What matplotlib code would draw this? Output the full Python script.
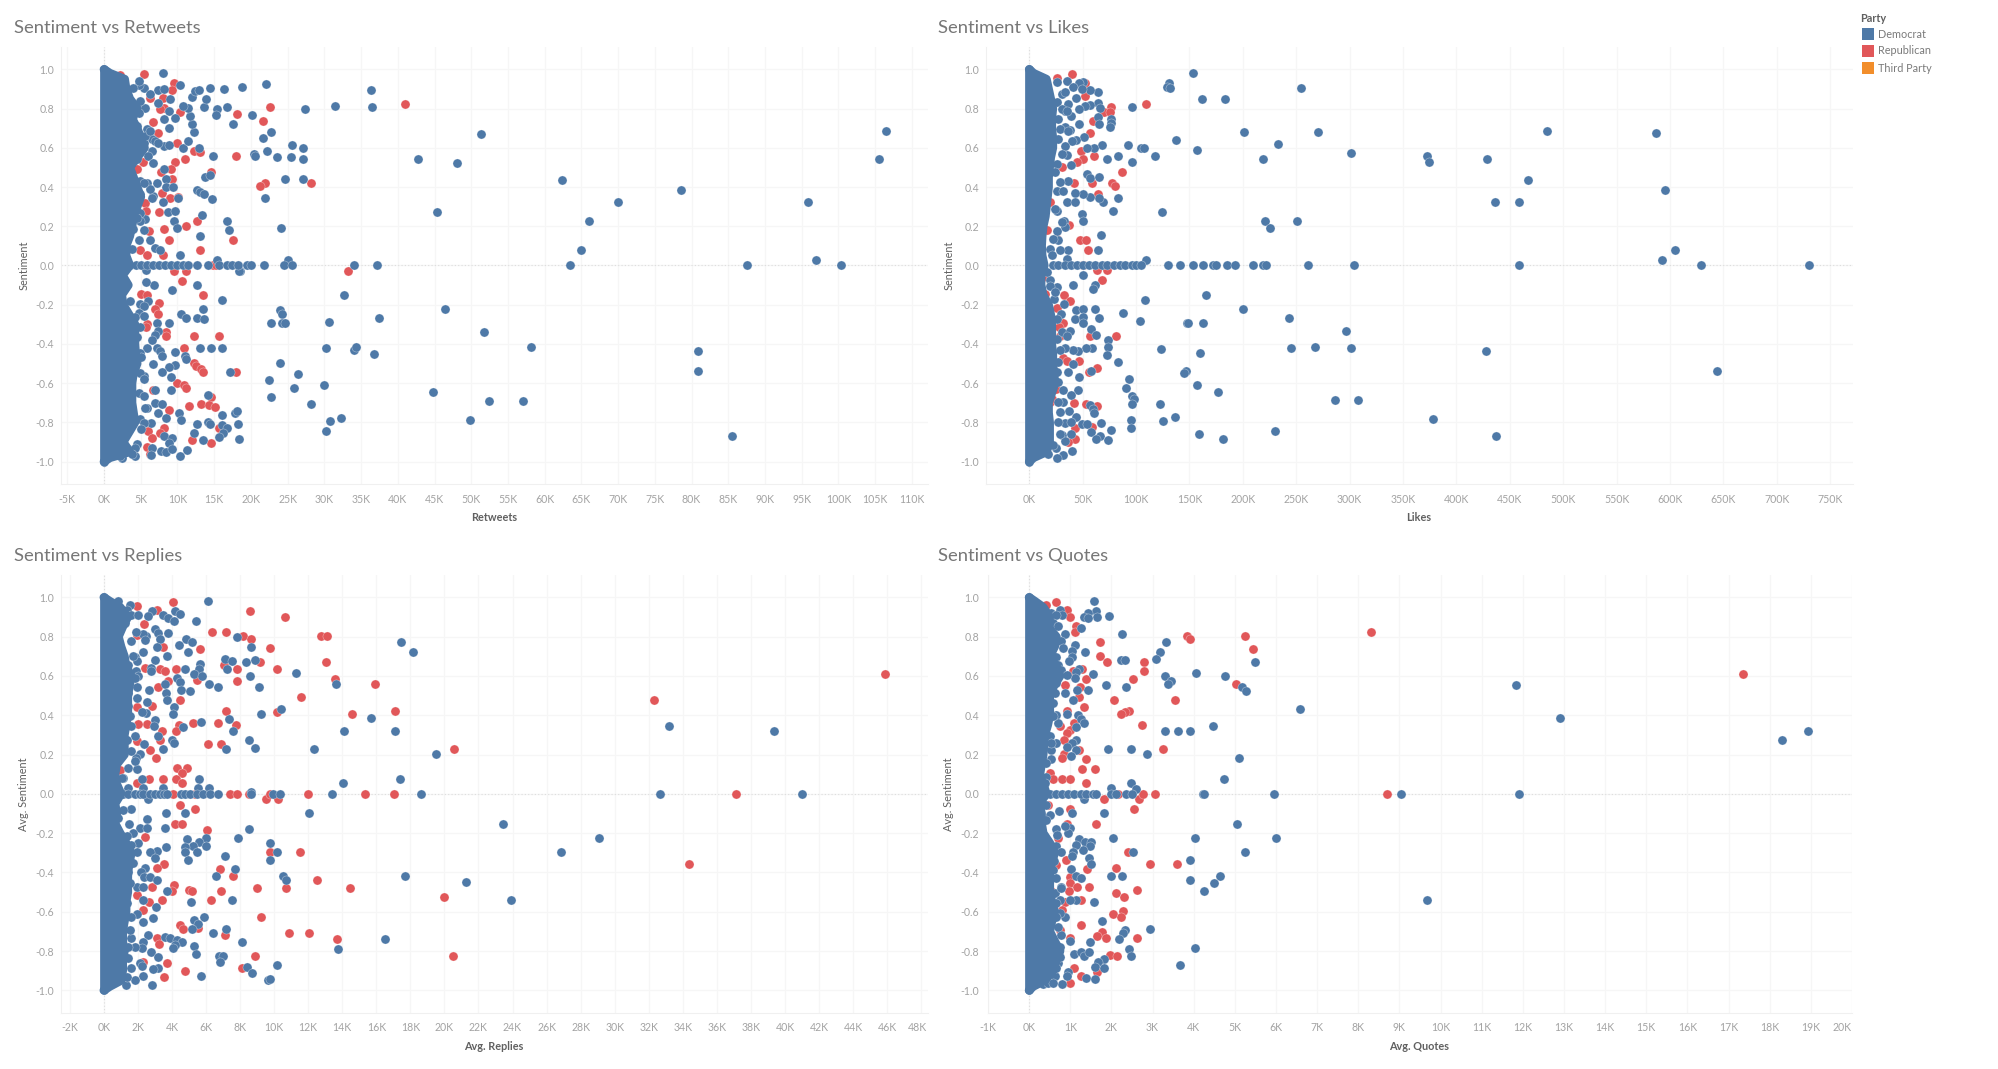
import numpy as np
import matplotlib
matplotlib.use("Agg")
import matplotlib.pyplot as plt
from matplotlib.patches import Rectangle
from matplotlib.transforms import ScaledTranslation

plt.rcParams['font.family'] = ['Lato', 'DejaVu Sans']

BLUE = '#4e79a7'; RED = '#e15759'; ORANGE = '#f28e2b'
W, H = 1999, 1069

y_ticks = [-1.0, -0.8, -0.6, -0.4, -0.2, 0.0, 0.2, 0.4, 0.6, 0.8, 1.0]
legend_items = ['Democrat', 'Republican', 'Third Party']

# ---------- sentiment levels at which the overplotted solid column was read
column_y = [1.0, .98, .95, .9, .85, .8, .75, .7, .65, .6, .55, .5, .45, .4, .35, .3, .25, .2, .15, .1, .05, 0,
            -.05, -.1, -.15, -.2, -.25, -.3, -.35, -.4, -.45, -.5, -.55, -.6, -.65, -.7, -.75, -.8, -.85, -.9, -.95, -.98, -1.0]

# ---------- Retweets (thousands)
rt_column = [0, .8, 2.8, 3, 3.5, 4.5, 3.8, 4.5, 5, 5.5, 4.5, 3.5, 4, 4.5, 5, 4.5, 4, 3.8, 3.5, 3, 3, 3.5,
             2.5, 3.3, 2.4, 2.6, 3.4, 4.2, 4.2, 4.2, 4.3, 4.5, 4, 3.8, 3.8, 3.8, 4, 4.2, 3.4, 2.6, 3.5, .8, 0]
rt_dem_zero = [3.5, 4.3, 5.1, 5.9, 6.7, 7.5, 8.3, 9.1, 9.9, 10.7, 11.5, 12.7, 14.2, 15.6, 16.7, 17.4, 18.2, 19.4, 20,
               21.8, 24.5, 25.6, 34, 37.2, 63.5, 87.6, 100.3]
rt_rep_zero = [14.9, 15.2]
rt_dem = [(8.05,.98),(10.4,.92),(14.45,.907),(16.3,.90),(18.8,.91),(22.1,.924),(36.4,.893),(31.5,.815),(36.5,.808),(27.3,.798),
 (16.8,.808),(15.4,.80),(15.3,.767),(13.6,.808),(20.1,.767),(17.5,.72),(22.7,.68),(21.7,.65),(51.3,.672),(25.6,.616),(27.1,.60),
 (22.2,.586),(20.4,.57),(20.6,.558),(23.6,.555),(25.4,.555),(27.1,.542),(14.8,.558),(42.8,.542),(48.1,.525),(24.7,.441),(27.1,.441),
 (21.9,.343),(45.4,.273),(24.1,.192),(16.7,.228),(17,.183),(13,.151),(13.8,.452),(14.45,.46),(12.6,.384),(13.1,.375),(13.6,.363),
 (14.7,.338),(13.3,.26),(10.4,.053),(12.9,.60),(10.8,.60),(11.4,.637),(12.3,.68),(12,.72),(11.7,.762),(11.4,.805),(10.7,.813),
 (12,.859),(12.4,.89),(12.9,.895),(13.9,.847),(9,.847),(7.3,.895),(8.1,.898),(5.5,.907),(6.3,.873),(4.7,.918),(4.7,.94),(7.4,.83),
 (8.8,.788),(9.7,.754),(8.1,.745),(8.8,.703),(5.8,.694),(6.5,.643),(8.1,.61),(8.9,.613),(6.5,.584),(6,.558),(6.7,.525),(8.1,.49),
 (8.5,.44),(7.2,.423),(8.5,.402),(9.4,.402),(6.7,.355),(10.1,.343),(8,.324),(8.7,.275),(9.6,.277),(9.5,.228),(10,.19),(4.7,.131),
 (6.2,.131),(7,.087),(7.6,.08),(5.4,.182),(5.6,.236),(15.4,.027),(25,.027),(18.5,-.027),
 (5.7,-.022),(18.4,-.027),(12.7,-.099),(6.8,-.099),(5.7,-.083),(9.2,-.126),(32.7,-.151),(16.1,-.177),(46.4,-.224),(13.5,-.224),
 (24,-.226),(24.2,-.245),(10.5,-.245),(11.2,-.269),(12.7,-.269),(13.6,-.274),(37.5,-.269),(30.6,-.286),(22.8,-.294),(24.2,-.294),
 (24.7,-.294),(7.2,-.294),(8.8,-.294),(51.8,-.337),(7.4,-.333),(7,-.355),(6.5,-.381),(4.5,-.367),(5.8,-.42),(7.2,-.42),(9.6,-.439),
 (7.6,-.435),(7.9,-.461),(13.1,-.42),(14.6,-.42),(16,-.42),(30.2,-.42),(34,-.43),(34.3,-.418),(58.1,-.415),(36.7,-.452),(11,-.461),
 (11.1,-.478),(6.7,-.503),(9.6,-.507),(8.9,-.515),(24,-.495),(7.9,-.543),(17.2,-.543),(26.4,-.551),(9.1,-.571),(5.4,-.563),(22.5,-.582),
 (25.9,-.624),(30,-.611),(7,-.636),(9.1,-.636),(44.8,-.646),(22.7,-.668),(14.2,-.658),(52.4,-.689),(57.1,-.689),(28.2,-.707),(7,-.699),
 (7.9,-.707),(5.8,-.724),(7.4,-.75),(10.2,-.753),(10.5,-.789),(8.5,-.776),(16.1,-.762),(17.9,-.753),(18.1,-.741),(32.3,-.777),
 (49.8,-.786),(30.8,-.794),(12.6,-.806),(14.1,-.796),(14.4,-.806),(16,-.813),(18.3,-.806),(16.7,-.83),(16.2,-.852),(6.4,-.803),
 (12.3,-.855),(15.6,-.872),(30.2,-.845),(8.1,-.869),(9.2,-.878),(8.8,-.903),(13.5,-.889),(18.4,-.886),(6.5,-.929),(7.8,-.946),
 (8.5,-.951),(9.3,-.937),(11.3,-.942),(10.3,-.971),(6.4,-.968),(4.2,-.971),(2.5,-.98),
 (106.5,.686),(105.5,.543),(62.4,.436),(78.5,.387),(70,.323),(95.8,.323),(66.1,.228),(64.9,.08),(97,.029),(80.9,-.435),(80.9,-.54),(85.5,-.869)]
rt_dem_near = [(4,.813),(4.7,.813),(5.6,.805),(4,.762),(4.7,.78),(4.5,.711),(4.7,.669),(5.4,.626),(4.5,.542),(4,.533),(4.9,.431),(4,.431),(5.8,.423),
 (6.3,.389),(4.9,.363),(6.5,.346),(4.9,.27),(4,.253),(4.9,.228),(4,.185),(3.1,.134),(3.8,.083),(4.5,.244),(5.4,.423),(5.6,.66),(6.3,.686),(7,.635),
 (7.4,.626),(4.9,.839),(4,.907),(3.5,-.18),(4.9,-.197),(6,-.18),(5.4,-.206),(4.7,-.24),(4.2,-.265),(5.4,-.257),(4.9,-.316),(4.9,-.444),(5.1,-.469),
 (4.9,-.546),(5.4,-.58),(4.7,-.648),(5.4,-.665),(5.6,-.724),(4.9,-.784),(5.4,-.801),(5.1,-.835),(4.5,-.912),(3.3,-.937),(4.2,-.929),(3.8,-.963),(2.2,-.971)]
rt_rep = [(5.4,.976),(2.2,.97),(9.5,.932),(9.3,.895),(6.3,.852),(8,.856),(8.1,.805),(7.6,.796),(10.4,.784),(18.1,.771),(22.6,.808),
 (21.7,.737),(41,.823),(6.6,.732),(7.4,.674),(10,.625),(12.2,.584),(13,.579),(18,.559),(11,.542),(9.7,.53),(5.3,.53),(4.5,.494),
 (9.1,.494),(7.7,.477),(14.5,.477),(9.3,.44),(21.9,.421),(21.3,.404),(28.2,.421),(7.9,.372),(9,.343),(10.1,.35),(5.6,.32),(7.5,.275),
 (5.7,.278),(12.6,.228),(11.2,.202),(8.2,.188),(6.1,.178),(8.8,.131),(17.6,.131),(13,.078),(4.9,.08),(5.8,.053),(8,.053),(33.2,-.026),
 (9.5,-.027),(11.1,-.027),(10.6,-.078),(13.5,-.151),(5.1,-.143),(5.9,-.151),(7.5,-.189),(7,-.223),(7.3,-.245),(5.8,-.3),(5.7,-.316),
 (8.5,-.338),(8.5,-.359),(12.2,-.359),(15.7,-.359),(10.9,-.42),(12.2,-.498),(12.5,-.512),(13.2,-.526),(13.5,-.543),(18,-.543),(10,-.6),
 (10.9,-.61),(11.1,-.626),(6.6,-.636),(14.5,-.668),(11.6,-.716),(13.2,-.707),(14.3,-.711),(15.1,-.721),(8.8,-.736),(8.1,-.827),
 (7.6,-.855),(6,-.844),(6.5,-.881),(12,-.891),(14.5,-.903),(5.9,-.923),(6.2,-.963),(15.7,-.83)]

# ---------- Likes (thousands)
lk_column = [0, 4, 16, 18, 20, 22, 21, 21, 22, 22, 20, 19, 18, 18, 17, 16, 15, 13, 12, 11.5, 12, 14,
             11, 11, 13, 18, 20, 21, 21, 21, 22, 22, 23, 24, 21, 18, 18, 19, 19, 19, 16, 4, 0]
lk_dem_zero = [22, 27, 33, 39, 45, 50, 56, 62, 68, 73, 79, 85, 90, 96, 100, 105, 129.5, 141.1, 153.2, 162.9, 172.3, 174.8,
               184.8, 192.6, 209.7, 219.1, 221.3, 260.9, 304, 458.5, 628.9, 730.4]
lk_rep_zero = [50.6]
lk_dem = [(153.2,.981),(130.8,.929),(129.2,.912),(131.7,.907),(254,.903),(162,.847),(183.5,.847),(95.8,.808),(201,.682),(270.3,.682),
 (137.3,.64),(232.8,.618),(157,.587),(301.5,.574),(218.5,.543),(372.3,.557),(374.2,.526),(92,.613),(104.2,.601),(107.4,.601),(117.7,.56),
 (83.3,.557),(73,.543),(96.4,.53),(68.4,.613),(60.9,.6),(53.7,.6),(51.2,.654),(43.7,.64),(39.6,.637),(38.7,.514),(35.6,.565),(64.6,.886),
 (56.8,.896),(50.6,.934),(46.8,.93),(35.6,.942),(41.2,.912),(49.6,.9),(43.4,.852),(64,.829),(56.8,.818),(52.1,.815),(46.5,.798),(66.2,.803),
 (36.5,.823),(33.4,.79),(64,.759),(76.2,.747),(76.5,.727),(75.5,.705),(65.5,.722),(38.7,.761),(46.8,.722),(38,.691),(53.7,.467),(56.8,.447),
 (65.5,.453),(36.5,.433),(28.7,.424),(82.7,.345),(78,.278),(123.9,.275),(69.3,.323),(65.2,.343),(56.8,.348),(50.6,.362),(42.8,.37),(35,.323),
 (42.8,.323),(49,.263),(49.9,.228),(221,.228),(225,.192),(250.3,.228),(67.4,.153),(27.2,.131),(32.8,.229),(33.4,.195),(25.6,.178),(25.6,.28),
 (64,.08),(36.5,.08),(28.7,.08),(108.9,.029),(35,.034),(50.6,-.048),(41.2,-.097),(61.5,-.098),(59.3,-.122),(19.4,-.076),(25.6,-.11),
 (165.1,-.149),(108,-.177),(23.1,-.173),(32.5,-.197),(200.4,-.224),(43.4,-.226),(49.9,-.224),(61.5,-.224),(29.7,-.246),(87.7,-.244),
 (65.5,-.267),(42.8,-.272),(50.6,-.263),(49.9,-.294),(243.1,-.267),(103.6,-.285),(147.3,-.294),(148.5,-.294),(162.9,-.294),(296.5,-.336),
 (57.7,-.323),(62.1,-.353),(30.3,-.34),(38,-.336),(35,-.36),(73.3,-.38),(73.3,-.416),(73,-.455),(244.7,-.419),(267.2,-.413),(300.9,-.419),
 (123.6,-.428),(159.8,-.448),(58.4,-.419),(52.7,-.419),(45.9,-.438),(41.2,-.433),(33.4,-.421),(28.7,-.433),(83.3,-.492),(41.2,-.504),
 (36.5,-.543),(57.4,-.537),(146.4,-.538),(145.1,-.55),(46.8,-.57),(93.6,-.579),(90.5,-.623),(156.7,-.61),(176.3,-.643),(45.9,-.635),
 (31.8,-.637),(38.7,-.662),(95.8,-.666),(98,-.679),(96.4,-.705),(286.2,-.688),(307.7,-.688),(122,-.705),(56.8,-.713),(59.3,-.73),(60.5,-.75),
 (31.8,-.696),(27.2,-.696),(37.5,-.744),(43.4,-.772),(33.4,-.803),(39,-.798),(136.4,-.774),(95.2,-.786),(95.2,-.827),(124.8,-.791),
 (378,-.783),(49,-.81),(54.3,-.806),(67.1,-.803),(76.8,-.84),(57.7,-.849),(66.2,-.869),(62.1,-.883),(73.7,-.891),(158.9,-.861),(230,-.844),
 (181,-.886),(30.9,-.866),(38.7,-.861),(33.4,-.895),(39.6,-.947),(31.8,-.968),(25.6,-.98),(17.8,-.959),(25,-.93),
 (484.7,.686),(586.8,.674),(428.2,.543),(467.2,.436),(594.9,.387),(436,.323),(458.5,.323),(604.2,.08),(592.4,.029),(427.6,-.435),(644.2,-.54),(437,-.869)]
lk_dem_near = [(25.6,.934),(30.3,.874),(33.4,.883),(25.6,.832),(30.3,.798),(35,.79),(27.2,.747),(33.4,.705),(28.7,.696),(36.5,.688),(27.2,.645),(33.4,.611),
 (30.3,.569),(25.6,.518),(24,.475),(25.6,.382),(31.8,.382),(24,.289),(30.3,.221),(22.5,.136),(19.4,.085),(20.9,.051),(16.2,-.034),(19.4,-.102),(24,-.136),
 (25.6,-.272),(25.6,-.374),(27.2,-.492),(25.6,-.543),(27.2,-.594),(28.7,-.747),(27.2,-.798),(28.7,-.857),(22.5,-.917)]
lk_rep = [(40.3,.978),(25.6,.954),(52.1,.93),(52.1,.862),(109.6,.825),(76.8,.808),(69.9,.784),(75.5,.781),(59.9,.739),(56.8,.674),(60.9,.56),
 (48.1,.582),(49.9,.543),(44.3,.53),(30.3,.501),(86.5,.479),(77.1,.421),(80.2,.406),(58.4,.421),(42.1,.423),(64,.365),(19.4,.323),(37.5,.204),
 (16.9,.183),(47.4,.132),(53.1,.132),(54.6,.08),(25.6,.136),(63,-.025),(73,-.025),(68.4,-.076),(13.1,-.059),(14.7,-.144),(32.8,-.149),
 (38,-.183),(25.6,-.217),(31.2,-.294),(28.1,-.314),(80.8,-.358),(56.8,-.358),(28.7,-.357),(31.8,-.472),(35,-.489),(46.8,-.489),(63.4,-.523),
 (56.2,-.543),(19.4,-.696),(20.9,-.683),(25,-.628),(17.8,-.6),(41.8,-.703),(52.7,-.708),(63.7,-.718),(43.1,-.827),(58.4,-.823),(42.8,-.886),(36.5,-.9)]

# ---------- Avg. Replies (thousands)
rp_column = [0, .35, .95, 1.4, 1.1, .85, 1, 1.2, 1.3, 1.6, 1.5, 1.4, 1.4, 1.4, 1.3, 1.2, 1.2, 1.2, .75, .65, .75, 1,
             .65, .75, .65, .95, 1.3, 1.6, 1.5, 1.4, 1.4, 1.4, 1.3, 1.3, 1.2, 1.1, 1.1, 1.2, 1.1, 1.1, 1, .35, 0]
rp_dem_zero = [1.1, 1.43, 1.8, 2.1, 2.31, 2.7, 3, 3.29, 3.52, 3.72, 4.5, 4.76, 5.05, 5.48, 5.83, 6.22, 6.73, 8.63, 9.94, 10.33,
               13.42, 18.61, 32.66, 40.99]
rp_rep_zero = [4.07, 5.34, 7.4, 7.79, 8.53, 9.75, 11.96, 15.36, 17.06, 37.1]
rp_dem = [(6.09,.98),(.84,.98),(1.53,.963),(2.8,.929),(2.6,.903),(4.17,.929),(4.46,.915),(3.48,.912),(3.78,.895),(4.13,.878),(5.4,.878),
 (3,.839),(3.78,.818),(3.19,.818),(2.5,.806),(2.31,.815),(1.88,.823),(2.41,.781),(3.29,.789),(7.83,.796),(4.81,.789),(5.19,.772),(4.42,.759),
 (3.09,.75),(4.91,.722),(2.31,.72),(8.61,.745),(17.46,.772),(18.18,.72),(3.72,.703),(2.99,.682),(1.82,.696),(1.92,.674),(7.14,.686),(7.5,.674),
 (8.32,.671),(8.85,.679),(7.24,.638),(5.64,.66),(5.6,.637),(4.74,.638),(2.74,.64),(2.74,.623),(5.28,.611),(5.79,.598),(1.88,.623),(2.02,.601),
 (11.31,.613),(8.57,.599),(4.31,.589),(4.46,.567),(6.18,.56),(6.73,.543),(9.08,.543),(3.58,.559),(4.52,.53),(5.05,.526),(13.62,.557),(2.62,.53),
 (1.96,.543),(3.64,.513),(3.72,.479),(1.92,.487),(2.54,.467),(4.13,.443),(4.03,.404),(2.5,.411),(2.21,.419),(10.41,.433),(9.22,.404),(7.34,.382),
 (15.71,.387),(2.99,.377),(2.95,.346),(4.62,.338),(5.68,.365),(14.11,.321),(17.12,.321),(7.57,.321),(3.19,.297),(1.82,.297),(3.97,.272),(4.11,.26),
 (8.53,.273),(2.37,.253),(8.88,.234),(7.18,.226),(3.48,.226),(12.33,.226),(19.51,.204),(2.11,.204),(1.88,.182),(1.43,.131),(1.96,.129),(17.4,.078),
 (5.58,.078),(2.25,.076),(1.14,.08),(14.07,.053),(5.54,.029),(6.18,.029),(3.48,.029),(2.27,.029),(1.43,.029),(8.61,.008),(2.6,-.025),(1.62,-.076),
 (3.64,-.1),(4.77,-.1),(12.02,-.1),(2.54,-.126),(23.41,-.151),(1.49,-.153),(3.6,-.173),(2.11,-.175),(2.54,-.173),(8.53,-.177),(5.97,-.224),
 (7.89,-.224),(4.87,-.228),(1.68,-.2),(9.75,-.248),(5.6,-.243),(5.24,-.265),(5.97,-.268),(4.74,-.272),(3.64,-.273),(4.74,-.295),(5.48,-.295),
 (3.09,-.29),(2.7,-.294),(2.02,-.251),(2.99,-.324),(10.14,-.294),(26.87,-.294),(7.12,-.316),(4.93,-.338),(9.75,-.338),(1.72,-.35),(7.69,-.38),
 (2.41,-.379),(2.17,-.399),(2.35,-.421),(2.7,-.424),(3.09,-.436),(6.58,-.419),(10.51,-.416),(10.72,-.438),(17.71,-.419),(21.25,-.45),(1.96,-.475),
 (2.31,-.474),(3.68,-.494),(5.13,-.55),(7.55,-.542),(23.91,-.542),(2.31,-.54),(3.05,-.574),(2.86,-.633),(2.31,-.65),(1.92,-.613),(5.87,-.628),
 (5.28,-.643),(5.54,-.662),(5.19,-.688),(6.38,-.706),(7.2,-.688),(16.52,-.74),(2.6,-.716),(3.58,-.727),(3.87,-.735),(4.27,-.744),(4.56,-.754),
 (4.17,-.769),(4.03,-.783),(1.62,-.735),(8.12,-.754),(5.28,-.776),(5.38,-.815),(13.74,-.791),(2.31,-.752),(2.21,-.783),(1.82,-.778),(2.74,-.806),
 (3.19,-.829),(2.11,-.862),(2.25,-.874),(3.19,-.888),(2.9,-.891),(6.77,-.825),(7.01,-.825),(6.83,-.854),(10.14,-.869),(8.43,-.883),(8.67,-.91),
 (9.65,-.946),(9.78,-.941),(5.73,-.927),(2.31,-.927),(1.84,-.949),(2.84,-.971),(1.29,-.971),
 (33.17,.343),(39.36,.321),(29.06,-.224)]
rp_dem_near = [(1.33,.937),(1.62,.912),(2.02,.912),(1.23,.869),(1.62,.776),(1.72,.7),(1.43,.657),(1.53,.589),(1.82,.589),(1.43,.513),(1.43,.445),(1.53,.394),
 (1.62,.343),(1.33,.275),(1.62,.216),(1.82,.165),(1.04,.08),(1.14,-.081),(.84,-.124),(1.33,-.217),(1.62,-.26),(1.92,-.294),(1.43,-.396),(1.53,-.455),
 (1.33,-.557),(1.62,-.625),(1.53,-.693),(1.43,-.778),(1.43,-.837),(1.62,-.888),(1.33,-.93)]
rp_rep = [(4.03,.976),(8.57,.932),(10.63,.902),(3.09,.937),(1.96,.958),(2.37,.866),(6.32,.823),(7.18,.823),(8.18,.803),(8.63,.786),(12.76,.801),
 (13.13,.806),(1.96,.81),(3.48,.75),(5.64,.737),(9.73,.742),(13.05,.672),(9.14,.672),(7.05,.657),(7.83,.638),(10.14,.638),(4.23,.638),(3.29,.638),
 (3.58,.626),(2.43,.64),(13.56,.587),(15.93,.56),(7.83,.574),(5.44,.581),(3.74,.576),(3.19,.543),(11.59,.494),(4.48,.477),(2.8,.445),(1.92,.44),
 (7.16,.421),(10.14,.419),(17.12,.421),(14.58,.404),(6.73,.362),(5.23,.36),(7.73,.35),(2.54,.355),(4.42,.348),(4.21,.321),(3.42,.321),(1.98,.355),
 (3.29,.275),(1.96,.267),(6.09,.253),(6.89,.253),(2.7,.224),(3.05,.182),(20.57,.226),(4.32,.131),(4.87,.131),(4.56,.104),(.94,.122),(3.48,.078),
 (4.23,.078),(2.64,.078),(4.58,.053),(1.96,.053),(9.51,-.025),(10.23,-.025),(4.48,-.056),(5.36,-.076),(4.17,-.151),(4.58,-.151),(6.03,-.185),
 (2.39,-.219),(9.78,-.294),(11.53,-.294),(3.54,-.358),(3.11,-.375),(6.79,-.38),(7.61,-.419),(4.13,-.462),(4.01,-.494),(2.8,-.472),(5.01,-.489),
 (5.15,-.492),(6.89,-.494),(9.02,-.477),(10.72,-.477),(12.52,-.438),(14.46,-.477),(1.96,-.514),(3.39,-.542),(6.28,-.542),(19.96,-.525),(2.66,-.552),
 (2.31,-.591),(9.22,-.625),(4.48,-.666),(4.62,-.689),(5.54,-.681),(10.86,-.71),(12.07,-.706),(7.14,-.72),(13.68,-.74),(3.09,-.732),(3.23,-.762),
 (8.85,-.827),(20.51,-.823),(3.72,-.862),(8.1,-.888),(4.77,-.9),(3.54,-.93),(2.31,-.854),(32.3,.477),(45.85,.611),(34.36,-.358)]

# ---------- Avg. Quotes (thousands)
qt_column = [0, .14, .34, .5, .46, .66, .62, .5, .66, .75, .6, .5, .5, .5, .45, .38, .36, .34, .3, .26, .34, .42,
             .24, .3, .3, .34, .5, .62, .55, .5, .5, .5, .55, .62, .55, .5, .62, .75, .65, .58, .38, .1, 0]
qt_dem_zero = [.5, .66, .8, .95, 1.1, 1.25, 1.39, 1.55, 1.63, 1.98, 2.12, 2.35, 2.51, 4.22, 4.25, 5.96, 9.05, 11.91]
qt_rep_zero = [2.16, 2.77, 3.06, 8.71]
qt_dem = [(1.58,.98),(1.62,.932),(1.95,.907),(1.64,.898),(1.43,.92),(1.33,.9),(1.43,.895),(1.25,.844),(2.26,.815),(3.33,.772),(3.19,.72),(3.09,.686),
 (5.48,.672),(2.24,.679),(2.32,.679),(1.12,.759),(1.35,.72),(1.05,.725),(1.03,.699),(.97,.674),(.88,.815),(.74,.937),(.81,.912),(1.21,.637),(1.15,.618),
 (1.11,.589),(1.55,.611),(4.05,.615),(4.77,.599),(3.29,.599),(3.44,.572),(3.37,.559),(5.18,.543),(5.28,.526),(2.36,.543),(1.86,.555),(1.43,.53),
 (1.17,.53),(.87,.513),(1.07,.477),(6.59,.433),(4.47,.343),(3.92,.321),(3.62,.321),(3.29,.321),(1.19,.402),(1.27,.382),(1.33,.363),(1.15,.34),(.91,.406),
 (.66,.402),(.7,.36),(1.13,.275),(1.03,.258),(.91,.236),(1.13,.224),(.66,.258),(.54,.224),(.54,.178),(1.01,.194),(1.91,.226),(2.48,.226),(2.86,.204),
 (5.11,.182),(4.73,.078),(2.48,.053),(2.6,.025),(1.98,.029),(1.33,-.025),(.72,-.087),(.5,-.107),(1.04,-.1),(1.82,-.1),(5.05,-.151),(.65,-.18),(.68,-.209),
 (.99,-.175),(.95,-.2),(.87,-.166),(2.05,-.224),(4.04,-.224),(6.01,-.224),(1.21,-.231),(1.35,-.243),(1.5,-.243),(1.47,-.268),(1.31,-.285),(1.13,-.26),
 (1.07,-.294),(1.05,-.314),(2.52,-.294),(5.25,-.294),(1.46,-.326),(1.51,-.358),(3.92,-.338),(.6,-.34),(1.02,-.382),(1.15,-.418),(1.25,-.43),(1.99,-.419),
 (2.26,-.416),(3.92,-.438),(4.64,-.419),(4.49,-.452),(4.26,-.492),(.78,-.475),(.62,-.506),(1.13,-.542),(.99,-.542),(.74,-.542),(1.58,-.55),(9.68,-.542),
 (.87,-.625),(.74,-.608),(1.76,-.645),(2.94,-.688),(2.34,-.693),(2.28,-.71),(2.18,-.74),(1.49,-.752),(.99,-.747),(.78,-.718),(4.02,-.784),(2.42,-.791),
 (2.47,-.827),(1.09,-.813),(1.25,-.806),(1.33,-.823),(1.45,-.806),(3.66,-.871),(.7,-.829),(.7,-.862),(1.81,-.842),(1.67,-.857),(1.59,-.879),(1.82,-.888),
 (.95,-.908),(.92,-.927),(.63,-.927),(1.37,-.939),(1.59,-.942),(.79,-.969),(.34,-.969),(11.84,.555),(12.9,.387),(18.31,.273),(18.93,.321)]
qt_dem_near = [(.54,.92),(.66,.912),(.58,.869),(.7,.852),(.66,.793),(.78,.776),(.83,.742),(.66,.699),(.7,.657),(.78,.632),(.91,.606),(.66,.564),(.62,.513),(.58,.462),
 (.58,.394),(.5,.292),(.54,.258),(.42,.156),(.42,.088),(.38,.054),(.42,-.056),(.42,-.132),(.66,-.268),(.78,-.294),(.58,-.387),(.66,-.43),(.78,-.48),(.66,-.557),
 (.66,-.625),(.7,-.676),(.74,-.778),(.74,-.829),(.66,-.888),(.46,-.964),(.58,-.964)]
qt_rep = [(.65,.976),(.42,.963),(.92,.934),(1,.902),(1.13,.852),(1.11,.822),(3.83,.803),(3.92,.786),(5.25,.806),(5.44,.739),(8.31,.825),(1.72,.772),(1.72,.703),
 (1.89,.672),(2.8,.672),(2.78,.625),(2.52,.587),(1.37,.587),(1.29,.638),(1.07,.626),(5.03,.56),(1.24,.543),(.87,.555),(1.21,.494),(2.06,.477),(3.54,.477),
 (1.33,.443),(.92,.423),(2.42,.423),(2.32,.419),(2.24,.404),(.5,.402),(2.75,.348),(1.08,.36),(.99,.326),(.92,.309),(.74,.343),(.85,.272),(3.25,.226),(1.21,.224),
 (.85,.204),(.81,.182),(1.37,.178),(1.29,.129),(1.59,.129),(.5,.105),(.57,.078),(.79,.078),(1,.078),(1.37,.053),(1.81,-.025),(2.67,-.025),(.46,-.056),(1,-.076),
 (2.55,-.076),(1.62,-.151),(.92,-.151),(.7,-.226),(2.4,-.294),(.89,-.338),(.65,-.362),(2.94,-.358),(3.6,-.358),(2.11,-.377),(1.41,-.382),(1,-.421),(.99,-.455),
 (1.17,-.475),(1.46,-.475),(.96,-.494),(2.1,-.506),(2.3,-.525),(2.63,-.489),(1.27,-.542),(.87,-.552),(.54,-.497),(2.28,-.596),(2.05,-.61),(2.24,-.625),(.79,-.591),
 (1.27,-.667),(1.76,-.705),(1.64,-.722),(1.88,-.733),(2.61,-.732),(.76,-.693),(.99,-.735),(1.97,-.822),(2.14,-.827),(1.1,-.888),(1.64,-.905),(1.25,-.927),(1,-.964),
 (.46,-.917),(17.34,.611)]

rt_ticks = [-5, 0, 5, 10, 15, 20, 25, 30, 35, 40, 45, 50, 55, 60, 65, 70, 75, 80, 85, 90, 95, 100, 105, 110]
lk_ticks = [0, 50, 100, 150, 200, 250, 300, 350, 400, 450, 500, 550, 600, 650, 700, 750]
rp_ticks = [-2, 0, 2, 4, 6, 8, 10, 12, 14, 16, 18, 20, 22, 24, 26, 28, 30, 32, 34, 36, 38, 40, 42, 44, 46, 48]
qt_ticks = [-1, 0, 1, 2, 3, 4, 5, 6, 7, 8, 9, 10, 11, 12, 13, 14, 15, 16, 17, 18, 19, 20]

panels = [
 dict(title='Sentiment vs Retweets', xl='Retweets', yl='Sentiment', box=(61, 47, 928, 484), xlim=(-5.86, 112.2), ticks=rt_ticks,
      col=rt_column, dz=rt_dem_zero, rz=rt_rep_zero, dem=rt_dem + rt_dem_near, rep=rt_rep, tx=14, ty=28, ylx=24, ytr=54, xlc=494, last=0),
 dict(title='Sentiment vs Likes', xl='Likes', yl='Sentiment', box=(985.7, 47, 1852.7, 484), xlim=(-40.8, 771), ticks=lk_ticks,
      col=lk_column, dz=lk_dem_zero, rz=lk_rep_zero, dem=lk_dem + lk_dem_near, rep=lk_rep, tx=938.5, ty=28, ylx=949, ytr=979, xlc=1419, last=0),
 dict(title='Sentiment vs Replies', xl='Avg. Replies', yl='Avg. Sentiment', box=(61, 575, 928, 1012.7), xlim=(-2.52, 48.4), ticks=rp_ticks,
      col=rp_column, dz=rp_dem_zero, rz=rp_rep_zero, dem=rp_dem + rp_dem_near, rep=rp_rep, tx=14, ty=556, ylx=24, ytr=54, xlc=494, last=-4),
 dict(title='Sentiment vs Quotes', xl='Avg. Quotes', yl='Avg. Sentiment', box=(988, 575, 1852, 1012.7), xlim=(-1.0, 19.98), ticks=qt_ticks,
      col=qt_column, dz=qt_dem_zero, rz=qt_rep_zero, dem=qt_dem + qt_dem_near, rep=qt_rep, tx=938.5, ty=556, ylx=949, ytr=979, xlc=1419, last=-10),
]

fig = plt.figure(figsize=(W/100, H/100), dpi=100, facecolor='white')
MS = 43
TICK_C = '#a3a3a3'; LAB_C = '#606060'; TITLE_C = '#777777'

for p in panels:
    l, t, r, b = p['box']
    ax = fig.add_axes([l/W, 1-b/H, (r-l)/W, (b-t)/H])
    ax.set_ylim(-1.114, 1.114)
    ax.set_xlim(*p['xlim'])
    for s in ['top', 'right']:
        ax.spines[s].set_visible(False)
    for s in ['left', 'bottom']:
        ax.spines[s].set_color('#f0f0f0'); ax.spines[s].set_linewidth(0.8)
    ax.set_xticks(p['ticks']); ax.set_yticks(y_ticks)
    ax.set_xticklabels([f'{v}K' for v in p['ticks']])
    ax.set_yticklabels([f'{v:.1f}' for v in y_ticks])
    ax.tick_params(length=0, labelsize=7.6, labelcolor=TICK_C)
    ax.tick_params(axis='x', pad=7)
    ax.tick_params(axis='y', pad=(l-p['ytr'])*0.72)
    ax.grid(True, color='#f6f6f6', lw=0.9)
    ax.set_axisbelow(True)
    ax.axhline(0, color='#dddddd', lw=0.8, ls=(0, (1, 2)), zorder=1)
    ax.axvline(0, color='#dddddd', lw=0.8, ls=(0, (1, 2)), zorder=1)
    if p['last']:
        lab = ax.get_xticklabels()[-1]
        lab.set_transform(lab.get_transform() + ScaledTranslation(p['last']/100, 0, fig.dpi_scale_trans))

    rep = np.array(p['rep']); dem = np.array(p['dem'])
    kw = dict(s=MS, linewidths=0.2, edgecolors='#ffffff', clip_on=False)
    ax.scatter(rep[:, 0], rep[:, 1], color=RED, zorder=3, **kw)
    ax.scatter(p['rz'], np.zeros(len(p['rz'])), color=RED, zorder=3, **kw)
    ax.scatter(dem[:, 0], dem[:, 1], color=BLUE, zorder=4, **kw)
    ax.scatter(p['dz'], np.zeros(len(p['dz'])), color=BLUE, zorder=4, **kw)
    # the overplotted solid column of points near zero
    ax.fill_betweenx(column_y, 0, p['col'], color=BLUE, lw=0, zorder=5)
    ax.plot(np.zeros(len(column_y)), column_y, color=BLUE, lw=6.3, solid_capstyle='round', zorder=5)
    ax.plot(p['col'], column_y, color=BLUE, lw=6.3, solid_capstyle='round', solid_joinstyle='round', zorder=5)

    fig.text(p['tx']/W, 1-p['ty']/H, p['title'], fontsize=13.3, color=TITLE_C, ha='left', va='center')
    fig.text(p['xlc']/W, 1-(b+33.5)/H, p['xl'], fontsize=7.8, color=LAB_C, ha='center', va='center', fontweight='bold')
    fig.text(p['ylx']/W, 1-((t+b)/2)/H, p['yl'], fontsize=7.8, color=LAB_C, ha='center', va='center', rotation=90)

# legend
fig.text(1860/W, 1-19/H, 'Party', fontsize=7.8, color=LAB_C, ha='left', va='center', fontweight='bold')
for name, col, yc in zip(legend_items, [BLUE, RED, ORANGE], [34, 51, 68]):
    fig.add_artist(Rectangle((1862/W, 1-(yc+6)/H), 12/W, 12/H, transform=fig.transFigure, facecolor=col, edgecolor='none'))
    fig.text(1878/W, 1-yc/H, name, fontsize=7.8, color='#7a7a7a', ha='left', va='center')

fig.savefig('out.png', dpi=100)
